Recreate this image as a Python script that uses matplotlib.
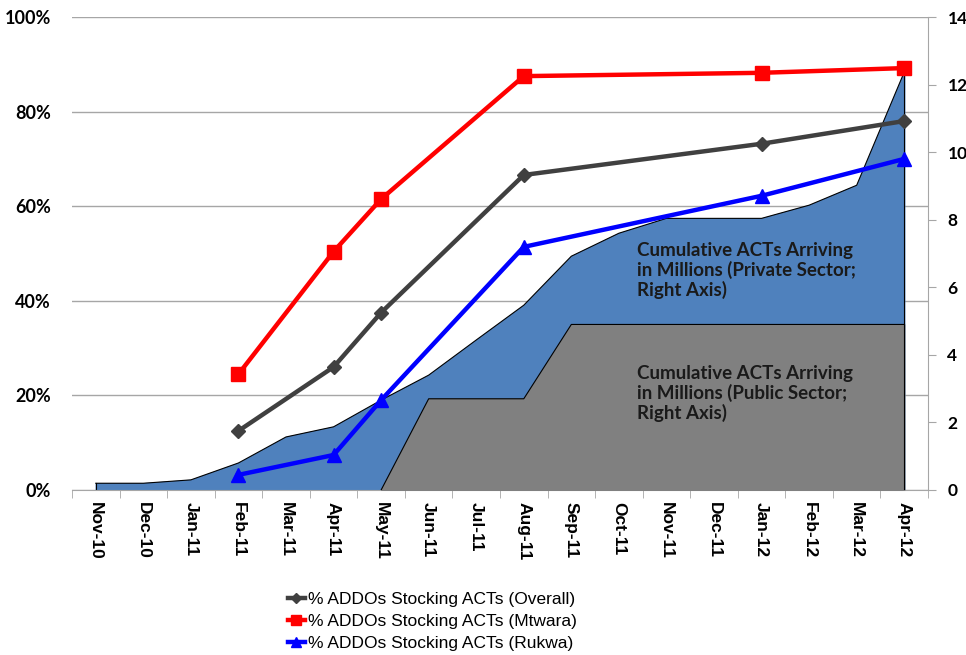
import matplotlib
matplotlib.use("Agg")
import matplotlib.pyplot as plt
import numpy as np

months = ["Nov-10", "Dec-10", "Jan-11", "Feb-11", "Mar-11", "Apr-11", "May-11", "Jun-11",
          "Jul-11", "Aug-11", "Sep-11", "Oct-11", "Nov-11", "Dec-11", "Jan-12", "Feb-12",
          "Mar-12", "Apr-12"]

# Cumulative ACTs arriving (millions), right axis
private_total = [0.2, 0.2, 0.3, 0.8, 1.57, 1.87, 2.66, 3.4, 4.44, 5.47, 6.92, 7.6, 8.04, 8.04,
                 8.04, 8.43, 9.02, 12.37]
public = [0, 0, 0, 0, 0, 0, 0, 2.7, 2.7, 2.7, 4.9, 4.9, 4.9, 4.9, 4.9, 4.9, 4.9, 4.9]

# % ADDOs stocking ACTs (survey months only)
survey_months = ["Feb-11", "Apr-11", "May-11", "Aug-11", "Jan-12", "Apr-12"]
overall = [12.5, 26.0, 37.5, 66.6, 73.2, 78.0]
mtwara = [24.5, 50.4, 61.5, 87.5, 88.2, 89.2]
rukwa = [3.2, 7.4, 19.0, 51.4, 62.2, 70.0]

left_ticks = [0, 20, 40, 60, 80, 100]
right_ticks = [0, 2, 4, 6, 8, 10, 12, 14]

x = np.arange(len(months))
xs = np.array([months.index(m) for m in survey_months])

fig = plt.figure(figsize=(9.66, 6.55), dpi=100)
ax = fig.add_axes([72 / 966, 1 - 490 / 655, (928 - 72) / 966, (490 - 17) / 655])
ax2 = ax.twinx()

ax.set_xlim(-0.5, len(months) - 0.5)
ax.set_ylim(0, right_ticks[-1])

# gridlines following the left (percent) axis
for t in left_ticks:
    ax.axhline(t / left_ticks[-1] * right_ticks[-1], color="#a6a6a6", lw=1.0, zorder=0)

# private area
ax.fill_between(x, 0, private_total, color="#4f81bd", zorder=1)
ax.plot(x, private_total, color="black", lw=0.8, zorder=2)
ax.plot([x[0], x[0]], [0, private_total[0]], color="black", lw=0.8, zorder=2)
ax.plot([x[-1], x[-1]], [0, private_total[-1]], color="black", lw=0.8, zorder=2)

# public area (starts where the last zero is)
start = max(i for i, v in enumerate(public) if v == 0)
xp = x[start:]
pp = np.array(public[start:])
ax.fill_between(xp, 0, pp, color="#808080", zorder=3)
ax.plot(xp, pp, color="black", lw=0.8, zorder=4)
ax.plot([xp[-1], xp[-1]], [0, pp[-1]], color="black", lw=0.8, zorder=4)

ax.text(11.39, 7.33, "Cumulative ACTs Arriving\nin Millions (Private Sector;\nRight Axis)",
        family="Lato", fontweight="bold", fontsize=13.5, color="#1a1a1a", va="top", ha="left",
        linespacing=1.12, zorder=5)
ax.text(11.39, 3.7, "Cumulative ACTs Arriving\nin Millions (Public Sector;\nRight Axis)",
        family="Lato", fontweight="bold", fontsize=13.5, color="#1a1a1a", va="top", ha="left",
        linespacing=1.12, zorder=5)

# right axis (areas)
ax.yaxis.tick_right()
ax.yaxis.set_label_position("right")
ax.set_yticks(right_ticks)
ax.set_yticklabels([str(t) for t in right_ticks], family="Lato", fontweight="bold", fontsize=12.5)
ax.tick_params(axis="y", which="both", left=False, right=True, labelleft=False, labelright=True,
               direction="out", length=6, color="#a6a6a6", pad=8)
ax.set_xticks(np.arange(-0.5, len(months), 1.0), minor=True)
ax.set_xticks(x)
ax.set_xticklabels(months, rotation=270, family="Liberation Sans", fontweight="bold", fontsize=12.5,
                   va="top", ha="center")
ax.tick_params(axis="x", which="major", length=0, pad=9)
ax.tick_params(axis="x", which="minor", length=6, color="#a6a6a6", direction="out")
for s in ["left", "top"]:
    ax.spines[s].set_visible(False)
ax.spines["right"].set_color("#a6a6a6")
ax.spines["bottom"].set_color("#a6a6a6")

# left axis (lines)
ax2.set_ylim(0, left_ticks[-1])
ax2.yaxis.tick_left()
ax2.set_yticks(left_ticks)
ax2.set_yticklabels([f"{t}%" for t in left_ticks], family="Lato", fontweight="bold", fontsize=13)
ax2.tick_params(axis="y", which="both", left=True, right=False, labelleft=True, labelright=False,
                length=0, pad=15)
for s in ax2.spines.values():
    s.set_visible(False)

l1, = ax2.plot(xs, overall, color="#404040", lw=3.2, marker="D", ms=7, zorder=3,
               label="% ADDOs Stocking ACTs (Overall)")
l2, = ax2.plot(xs, mtwara, color="#ff0000", lw=3.2, marker="s", ms=10, zorder=3,
               label="% ADDOs Stocking ACTs (Mtwara)")
l3, = ax2.plot(xs, rukwa, color="#0000ff", lw=3.2, marker="^", ms=10, zorder=3,
               label="% ADDOs Stocking ACTs (Rukwa)")

fig.legend(handles=[l1, l2, l3], loc="upper left", bbox_to_anchor=(272 / 966, 1 - 576 / 655),
           frameon=False, handlelength=1.0, handletextpad=0.15, labelspacing=0.4,
           prop={"family": "Liberation Sans", "size": 12.5}, markerscale=0.7)

fig.savefig("out.png", dpi=100)
